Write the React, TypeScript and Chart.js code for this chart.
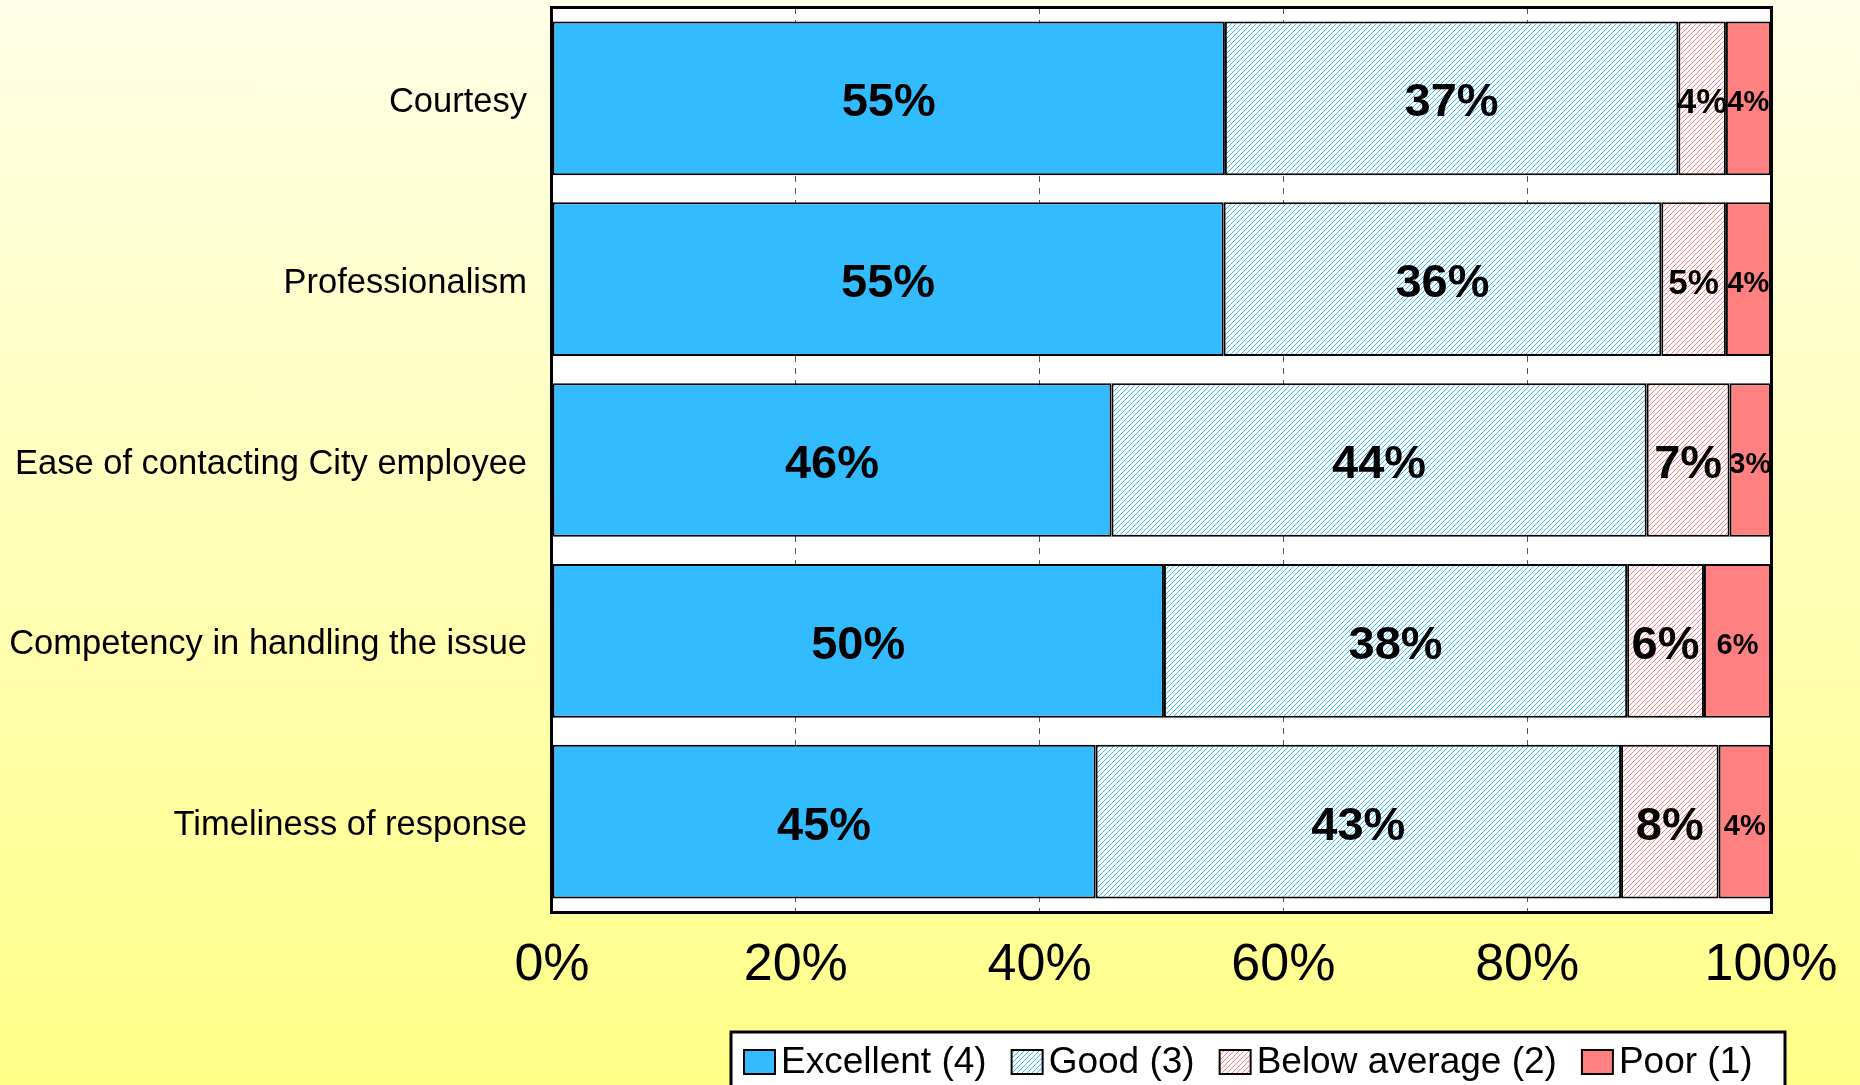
import React, { useEffect, useRef } from "react";
import { Chart, registerables } from "chart.js";

Chart.register(...registerables);

const categories = [
  "Courtesy",
  "Professionalism",
  "Ease of contacting City employee",
  "Competency in handling the issue",
  "Timeliness of response",
];
const excellent = [55.2, 55.1, 45.9, 50.2, 44.6];
const good = [37.2, 35.9, 43.9, 38.0, 43.1];
const belowAverage = [3.9, 5.3, 6.8, 6.3, 8.0];
const poor = [3.7, 3.7, 3.4, 5.5, 4.3];
const seriesNames = ["Excellent (4)", "Good (3)", "Below average (2)", "Poor (1)"];
const xTicks = [0, 20, 40, 60, 80, 100];

const FONT = "'Liberation Sans', Arial, Helvetica, sans-serif";

function makeHatch(color: string): CanvasPattern | string {
  const s = 5;
  const c = document.createElement("canvas");
  c.width = s;
  c.height = s;
  const g = c.getContext("2d");
  if (!g) return color;
  g.fillStyle = "#ffffff";
  g.fillRect(0, 0, s, s);
  g.strokeStyle = color;
  g.lineWidth = 1;
  g.beginPath();
  g.moveTo(0, s);
  g.lineTo(s, 0);
  g.moveTo(-1, 1);
  g.lineTo(1, -1);
  g.moveTo(s - 1, s + 1);
  g.lineTo(s + 1, s - 1);
  g.stroke();
  const p = g.createPattern(c, "repeat");
  return p || color;
}

export default function App() {
  const ref = useRef<HTMLCanvasElement | null>(null);

  useEffect(() => {
    document.body.style.margin = "0";
    const canvas = ref.current;
    if (!canvas) return;

    const blue = "#33bbff";
    const pink = "#ff8080";
    const goodFill = makeHatch(blue);
    const belowFill = makeHatch(pink);
    const fills: any[] = [blue, goodFill, belowFill, pink];

    const bgPlugin = {
      id: "plotBg",
      beforeDraw(chart: any) {
        const { ctx, chartArea: a } = chart;
        ctx.save();
        ctx.fillStyle = "#ffffff";
        ctx.fillRect(a.left, a.top, a.right - a.left, a.bottom - a.top);
        ctx.restore();
      },
    };

    const labelPlugin = {
      id: "segLabels",
      afterDatasetsDraw(chart: any) {
        const ctx = chart.ctx;
        ctx.save();
        ctx.fillStyle = "#000";
        ctx.textAlign = "center";
        ctx.textBaseline = "middle";
        chart.data.datasets.forEach((ds: any, di: number) => {
          const meta = chart.getDatasetMeta(di);
          meta.data.forEach((el: any, i: number) => {
            const v = ds.data[i];
            let size = 47;
            if (di === 3) size = 29;
            else if (di === 2 && v < 6) size = 35;
            ctx.font = `bold ${size}px ${FONT}`;
            const cx = (el.x + el.base) / 2;
            ctx.fillText(`${Math.round(v)}%`, cx, el.y + 5);
          });
        });
        ctx.restore();
      },
      afterDraw(chart: any) {
        const { ctx, chartArea: a } = chart;
        ctx.save();
        // plot frame
        ctx.strokeStyle = "#000";
        ctx.lineWidth = 3;
        ctx.strokeRect(a.left - 0.5, a.top - 0.5, a.right - a.left + 1, a.bottom - a.top + 1);

        // legend
        const boxL = 731;
        const boxR = 1785;
        const boxT = 1032;
        ctx.fillStyle = "#ffffff";
        ctx.fillRect(boxL, boxT, boxR - boxL, 70);
        ctx.lineWidth = 3;
        ctx.strokeStyle = "#000";
        ctx.strokeRect(boxL, boxT, boxR - boxL, 70);
        ctx.font = `37px ${FONT}`;
        ctx.textBaseline = "middle";
        ctx.textAlign = "left";
        let x = 744;
        const cy = 1062;
        seriesNames.forEach((name, i) => {
          ctx.fillStyle = fills[i];
          ctx.fillRect(x, cy - 12, 31, 24);
          ctx.lineWidth = 2;
          ctx.strokeStyle = "#000";
          ctx.strokeRect(x, cy - 12, 31, 24);
          ctx.fillStyle = "#000";
          ctx.fillText(name, x + 37, cy + 1);
          x += 37 + ctx.measureText(name).width + 25;
        });
        ctx.restore();
      },
    };

    const series = [excellent, good, belowAverage, poor];
    const chart = new Chart(canvas, {
      type: "bar",
      data: {
        labels: categories,
        datasets: series.map((d, i) => ({
          label: seriesNames[i],
          data: d,
          backgroundColor: fills[i],
          borderColor: "#000",
          borderWidth: 2,
          borderSkipped: false,
          barPercentage: 0.85,
          categoryPercentage: 1,
        })),
      },
      options: {
        indexAxis: "y",
        responsive: false,
        animation: false,
        devicePixelRatio: 1,
        layout: { padding: { top: 8, right: 89, bottom: 96, left: 0 } },
        plugins: {
          legend: { display: false },
          tooltip: { enabled: false },
        },
        scales: {
          x: {
            stacked: true,
            min: 0,
            max: 100,
            afterBuildTicks(scale: any) {
              scale.ticks = xTicks.map((v) => ({ value: v }));
            },
            afterFit(scale: any) {
              scale.height = 77;
            },
            ticks: {
              callback: (v: any) => `${v}%`,
              color: "#000",
              font: { family: FONT, size: 52 },
              padding: 22,
              maxRotation: 0,
            },
            grid: {
              color: "#555",
              lineWidth: 1,
              drawTicks: false,
            },
            border: { display: false, dash: [6, 6] },
          },
          y: {
            stacked: true,
            afterFit(scale: any) {
              scale.width = 552;
              scale.paddingTop = 0;
              scale.paddingBottom = 0;
            },
            ticks: {
              color: "#000",
              font: { family: FONT, size: 34.5 },
              padding: 25,
              labelOffset: 4,
            },
            grid: { display: false, drawTicks: false },
            border: { display: false },
          },
        },
      } as any,
      plugins: [bgPlugin, labelPlugin],
    });
    return () => chart.destroy();
  }, []);

  return (
    <div
      style={{
        position: "absolute",
        left: 0,
        top: 0,
        width: 1860,
        height: 1085,
        background: "linear-gradient(to bottom, #ffffe8 0%, #ffff88 100%)",
        overflow: "hidden",
      }}
    >
      <canvas ref={ref} width={1860} height={1085} style={{ display: "block" }} />
    </div>
  );
}
